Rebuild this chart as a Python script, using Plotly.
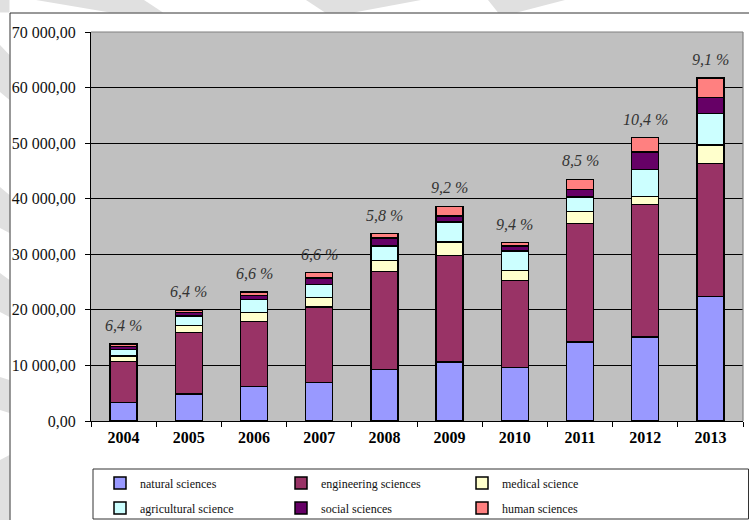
import plotly.graph_objects as go

# Years on the category axis
years = ["2004", "2005", "2006", "2007", "2008", "2009", "2010", "2011", "2012", "2013"]

# Values per field of science
natural_sciences = [3300, 4900, 6200, 6900, 9300, 10600, 9600, 14200, 15100, 22400]
engineering_sciences = [7400, 11000, 11700, 13600, 17600, 19200, 15700, 21300, 23900, 23900]
medical_science = [1000, 1300, 1600, 1700, 2000, 2400, 1800, 2200, 1400, 3400]
agricultural_science = [1200, 1700, 2400, 2400, 2600, 3600, 3500, 2600, 4900, 5600]
social_sciences = [500, 600, 700, 1100, 1400, 1100, 900, 1400, 3100, 2900]
human_sciences = [500, 400, 600, 1000, 800, 1700, 600, 1800, 2600, 3500]

# Growth labels printed above each column
growth_labels = ["6,4 %", "6,4 %", "6,6 %", "6,6 %", "5,8 %", "9,2 %", "9,4 %", "8,5 %", "10,4 %", "9,1 %"]

# Value-axis ticks
y_tick_values = [0, 10000, 20000, 30000, 40000, 50000, 60000, 70000]
y_tick_labels = ["0,00", "10 000,00", "20 000,00", "30 000,00", "40 000,00",
                 "50 000,00", "60 000,00", "70 000,00"]

SERIF = "Liberation Serif"

series = [
    ("natural sciences", natural_sciences, "#9999FF", "legend"),
    ("engineering sciences", engineering_sciences, "#993366", "legend"),
    ("medical science", medical_science, "#FFFFCC", "legend"),
    ("agricultural science", agricultural_science, "#CCFFFF", "legend2"),
    ("social sciences", social_sciences, "#660066", "legend2"),
    ("human sciences", human_sciences, "#FF8080", "legend2"),
]

fig = go.Figure()
for name, vals, color, leg in series:
    fig.add_trace(go.Bar(
        x=years, y=vals, name=name,
        marker=dict(color=color, line=dict(color="black", width=1.5)),
        legend=leg,
    ))

totals = [sum(v) for v in zip(*[s[1] for s in series])]
for i, (tot, lab) in enumerate(zip(totals, growth_labels)):
    fig.add_annotation(
        x=i, y=tot, text=lab, showarrow=False,
        yanchor="bottom", yshift=8,
        font=dict(family=SERIF, size=16, color="#333333", style="italic"),
    )

plot_h = 389.0
plot_w = 652.0

def py(pix):
    return (421.0 - pix) / plot_h

def px(pix):
    return (pix - 91.0) / plot_w

def poly(points):
    return "M" + " L".join(f"{px(a):.5f},{py(b):.5f}" for a, b in points) + " Z"

# faint page decoration around the chart frame
decor = [
    [(36, 0), (144, 0), (163, 12.5), (110, 12.5)],
    [(306, 0), (421, 0), (354, 12.5), (325, 12.5)],
    [(488, 0), (565, 0), (517, 12.5), (498, 12.5)],
    [(0, 0), (9.5, 0), (9.5, 12.5), (0, 12.5)],
    [(0, 45), (9.5, 55), (9.5, 100), (0, 92)],
    [(0, 187), (9.5, 195), (9.5, 233), (0, 228)],
    [(0, 273), (9.5, 280), (9.5, 317), (0, 312)],
    [(0, 377), (9.5, 380), (9.5, 413), (0, 410)],
    [(0, 460), (9.5, 455), (9.5, 520), (0, 520)],
]

shapes = [
    dict(type="path", xref="paper", yref="paper", path=poly(pts),
         fillcolor="#E0E0E0", line=dict(width=0), layer="below")
    for pts in decor
]

shapes += [
    # plot area frame (top/right)
    dict(type="line", xref="paper", yref="paper", x0=0, x1=1, y0=1, y1=1,
         line=dict(color="#808080", width=1.2), layer="above"),
    dict(type="line", xref="paper", yref="paper", x0=1, x1=1, y0=0, y1=1,
         line=dict(color="#808080", width=1.2), layer="above"),
    # outer chart border
    dict(type="line", xref="paper", yref="paper", x0=px(10), x1=px(10), y0=py(520), y1=py(13),
         line=dict(color="#333333", width=1)),
    dict(type="line", xref="paper", yref="paper", x0=px(10), x1=px(749), y0=py(13), y1=py(13),
         line=dict(color="#333333", width=1)),
    # legend frame
    dict(type="rect", xref="paper", yref="paper", x0=px(93), x1=px(748.5), y0=py(519), y1=py(469),
         line=dict(color="#333333", width=1), fillcolor="rgba(0,0,0,0)"),
]

legend_common = dict(
    orientation="h", entrywidth=136, entrywidthmode="pixels",
    xanchor="left", yanchor="middle", bgcolor="rgba(0,0,0,0)",
    font=dict(family=SERIF, size=12, color="#111111"),
    traceorder="normal",
)

fig.update_layout(
    width=749, height=520,
    margin=dict(l=91, r=6, t=32, b=99, autoexpand=False),
    paper_bgcolor="white",
    plot_bgcolor="#C0C0C0",
    barmode="stack",
    bargap=0.585,
    showlegend=True,
    legend=dict(x=px(100), y=py(483), **legend_common),
    legend2=dict(x=px(100), y=py(508), **legend_common),
    shapes=shapes,
    xaxis=dict(
        type="category", categoryorder="array", categoryarray=years,
        range=[-0.5, len(years) - 0.5],
        showgrid=False, showline=True, linecolor="black", linewidth=1,
        ticks="outside", tickson="boundaries", ticklen=5, tickcolor="black",
        tickfont=dict(family=SERIF, size=16, color="black", weight="bold"),
        tickangle=0, ticklabelstandoff=2,
    ),
    yaxis=dict(
        range=[0, 70000], tickvals=y_tick_values, ticktext=y_tick_labels,
        showgrid=True, gridcolor="black", gridwidth=1,
        showline=True, linecolor="black", linewidth=1,
        ticks="outside", ticklen=5, tickcolor="black",
        tickfont=dict(family=SERIF, size=16, color="#111111"),
        zeroline=False, ticklabelstandoff=6,
    ),
)

fig.write_html("out.html")
